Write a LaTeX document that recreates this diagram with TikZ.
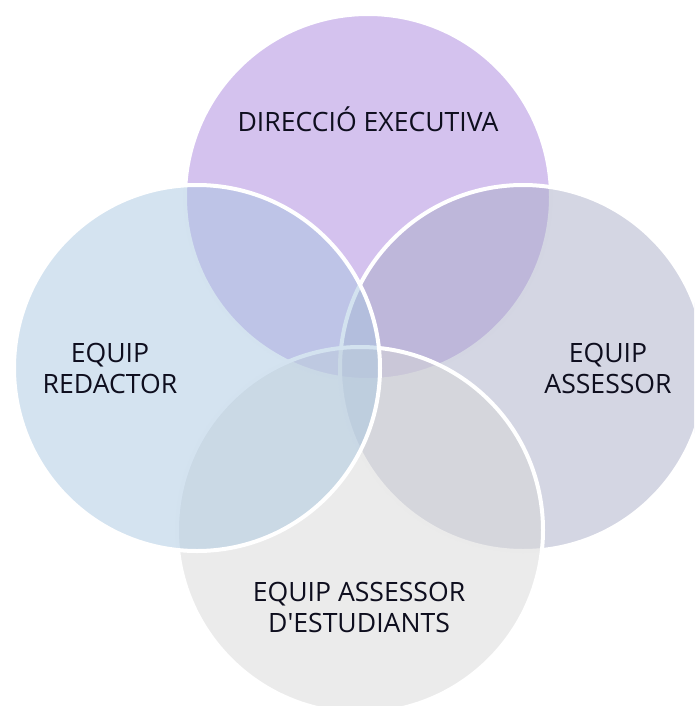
\documentclass[tikz,border=0pt]{standalone}
\usepackage{fontspec}
\newfontfamily\osans{Open Sans}
\definecolor{topc}{HTML}{A985DD}
\definecolor{leftc}{HTML}{A9C7E1}
\definecolor{rightc}{HTML}{A9ADC7}
\definecolor{botc}{HTML}{D7D7D7}
\definecolor{txt}{HTML}{0E0E1E}
\tikzset{
  venn/.style={circle, minimum size=366pt, inner sep=0pt, draw=white, line width=4pt, fill opacity=0.5, draw opacity=1},
  lbl/.style={text=txt, font=\osans\fontsize{26.6}{31}\selectfont, align=center, inner sep=0pt}
}
\begin{document}
\begin{tikzpicture}[x=1pt,y=-1pt]
\useasboundingbox (0,0) rectangle (694,706);
\clip (0,0) rectangle (694,706);
\node[venn, fill=topc] (top) at (368,197) {};
\node[venn, fill=rightc] (right) at (523,368) {};
\node[venn, fill=botc] (bottom) at (360,530) {};
\node[venn, fill=leftc] (left) at (197,368) {};
\node[lbl] (ttop) at (368,119) {DIRECCIÓ EXECUTIVA};
\node[lbl] (tleft) at (110,368) {EQUIP\\REDACTOR};
\node[lbl] (tright) at (608,368) {EQUIP\\ASSESSOR};
\node[lbl] (tbot) at (359,607) {EQUIP ASSESSOR\\D'ESTUDIANTS};
\end{tikzpicture}
\end{document}
